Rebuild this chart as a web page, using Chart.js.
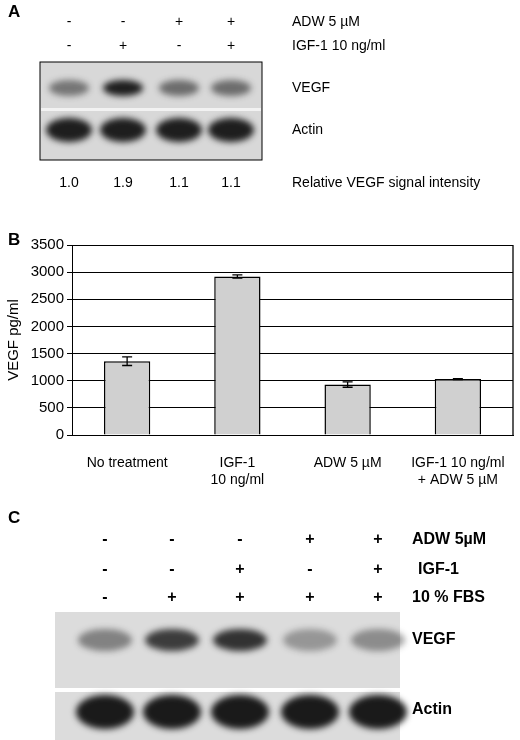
<!DOCTYPE html><html><head><meta charset="utf-8">
<script src="https://cdn.jsdelivr.net/npm/chart.js@4"></script>
<style>html,body{margin:0;background:#fff}#w{width:520px;height:740px}</style></head>
<body><div id="w"><canvas id="c"></canvas></div><script>
const categories=[["No treatment"],["IGF-1","10 ng/ml"],["ADW 5 µM"],["IGF-1 10 ng/ml","+ ADW 5 µM"]];
const vegfValues=[1360,2920,930,1030];
const vegfErrors=[80,30,50,10];
const yTicks=[0,500,1000,1500,2000,2500,3000,3500];
const panelAAdw=["-","-","+","+"];
const panelAIgf=["-","+","-","+"];
const panelAIntensity=["1.0","1.9","1.1","1.1"];
const panelAVegfBand=[0.5,0.95,0.55,0.55];
const panelCAdw=["-","-","-","+","+"];
const panelCIgf=["-","-","+","-","+"];
const panelCFbs=["-","+","+","+","+"];
const panelCVegfBand=[0.45,0.8,0.85,0.35,0.4];
const F='Arial, "Liberation Sans", sans-serif';
function band(ctx,x,y,w,h,a){ctx.save();ctx.filter='blur(3px)';ctx.fillStyle=`rgba(20,20,20,${a})`;ctx.beginPath();ctx.ellipse(x,y,w/2,h/2,0,0,Math.PI*2);ctx.fill();ctx.restore();}
const deco={id:'deco',afterDraw(ch){const ctx=ch.ctx,y=ch.scales.y,x=ch.scales.x,ca=ch.chartArea;
ctx.save();ctx.strokeStyle='#000';ctx.lineWidth=1.3;
ctx.beginPath();ctx.moveTo(ca.right,ca.top);ctx.lineTo(ca.right,ca.bottom);ctx.stroke();
vegfValues.forEach((v,i)=>{const px=x.getPixelForValue(i),t=y.getPixelForValue(v+vegfErrors[i]),b=y.getPixelForValue(v-vegfErrors[i]);ctx.beginPath();ctx.moveTo(px,t);ctx.lineTo(px,b);ctx.moveTo(px-5,t);ctx.lineTo(px+5,t);ctx.moveTo(px-5,b);ctx.lineTo(px+5,b);ctx.stroke();});
ctx.fillStyle='#000';ctx.textBaseline='middle';
ctx.font='bold 17px '+F;ctx.fillText('A',8,12);ctx.fillText('B',8,240);ctx.fillText('C',8,518);
ctx.save();ctx.translate(14,340);ctx.rotate(-Math.PI/2);ctx.textAlign='center';ctx.font='15px '+F;ctx.fillText('VEGF pg/ml',0,0);ctx.restore();
const ax=[69,123,179,231];ctx.textAlign='center';ctx.font='14px '+F;
ax.forEach((px,i)=>{ctx.fillText(panelAAdw[i],px,22);ctx.fillText(panelAIgf[i],px,46);ctx.fillText(panelAIntensity[i],px,183);});
ctx.textAlign='left';ctx.fillText('ADW 5 µM',292,22);ctx.fillText('IGF-1 10 ng/ml',292,46);ctx.fillText('VEGF',292,88);ctx.fillText('Actin',292,130);ctx.fillText('Relative VEGF signal intensity',292,183);
ctx.fillStyle='#d8d8d8';ctx.fillRect(40,62,222,98);ctx.strokeStyle='#000';ctx.lineWidth=1;ctx.strokeRect(40,62,222,98);
ctx.fillStyle='#f2f2f2';ctx.fillRect(41,108,220,3);
ax.forEach((px,i)=>{band(ctx,px,88,40,16,panelAVegfBand[i]);band(ctx,px,130,46,24,0.95);});
const cx=[105,172,240,310,378];ctx.fillStyle='#000';ctx.font='bold 16px '+F;ctx.textAlign='center';
cx.forEach((px,i)=>{ctx.fillText(panelCAdw[i],px,540);ctx.fillText(panelCIgf[i],px,570);ctx.fillText(panelCFbs[i],px,598);});
ctx.textAlign='left';ctx.fillText('ADW 5µM',412,540);ctx.fillText('IGF-1',418,570);ctx.fillText('10 % FBS',412,598);ctx.fillText('VEGF',412,640);ctx.fillText('Actin',412,710);
ctx.fillStyle='#dcdcdc';ctx.fillRect(55,612,345,76);ctx.fillRect(55,692,345,48);
cx.forEach((px,i)=>{band(ctx,px,640,54,22,panelCVegfBand[i]);band(ctx,px,712,58,34,0.97);});
ctx.restore();}};
new Chart(document.getElementById('c'),{type:'bar',data:{labels:categories,datasets:[{data:vegfValues,backgroundColor:'#d0d0d0',borderColor:'#000',borderWidth:1.5,barPercentage:0.42,categoryPercentage:1}]},
options:{responsive:true,maintainAspectRatio:false,animation:false,devicePixelRatio:1,layout:{padding:{top:245,right:7,left:0,bottom:0}},
plugins:{legend:{display:false},tooltip:{enabled:false}},
scales:{y:{min:0,max:3500,afterFit:s=>{s.width=72;},afterBuildTicks:s=>{s.ticks=yTicks.map(v=>({value:v}));},ticks:{color:'#000',font:{size:15,family:F},callback:v=>String(v)},grid:{color:'#000',lineWidth:1,drawTicks:true,tickLength:5},border:{color:'#000'}},
x:{afterFit:s=>{s.height=305;},ticks:{color:'#000',font:{size:14,family:F},maxRotation:0,padding:12},grid:{display:false},border:{color:'#000'}}}},plugins:[deco]});
</script></body></html>
